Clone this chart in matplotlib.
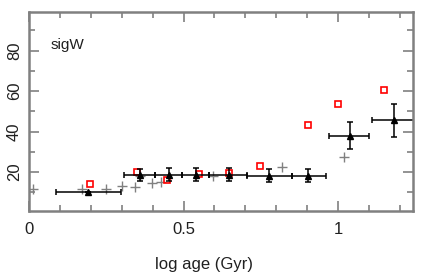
import numpy as np
import matplotlib.pyplot as plt
from matplotlib.ticker import MultipleLocator

# grey crosses (individual clusters)
plus_x = [0.014, 0.17, 0.25, 0.30, 0.343, 0.36, 0.397, 0.428, 0.595, 0.818, 1.019]
plus_y = [11.5, 11.8, 11.6, 13.0, 12.6, 18.0, 14.8, 15.2, 18.2, 22.5, 27.7]

# red open squares
sq_x = [0.197, 0.348, 0.448, 0.55, 0.648, 0.748, 0.902, 0.999, 1.149]
sq_y = [14.3, 20.0, 16.2, 19.2, 19.5, 23.0, 43.3, 53.7, 60.7]

# binned means (triangles) with errors
tri_x = [0.192, 0.359, 0.453, 0.539, 0.648, 0.778, 0.904, 1.039, 1.181]
tri_y = [10.0, 18.7, 18.8, 18.8, 18.8, 18.3, 18.3, 38.0, 45.5]
tri_xlo = [0.086, 0.308, 0.408, 0.496, 0.583, 0.705, 0.85, 0.971, 1.109]
tri_xhi = [0.298, 0.408, 0.496, 0.583, 0.705, 0.85, 0.96, 1.10, 1.25]
tri_yerr = [0.0, 3.0, 3.0, 3.0, 3.0, 3.0, 3.0, 6.5, 8.2]

plt.rcParams['font.family'] = ['Liberation Sans', 'DejaVu Sans']

fig = plt.figure(figsize=(4.36, 2.79), dpi=100)
ax = fig.add_axes([0.0665, 0.245, 0.881, 0.712])

grey = '#808080'
txt = '#202020'

ax.plot(plus_x, plus_y, '+', color=grey, markersize=7, mew=1.0)
ax.plot(sq_x, sq_y, 's', mfc='none', mec='red', markersize=5, mew=1.2)

xerr = [np.array(tri_x) - np.array(tri_xlo), np.array(tri_xhi) - np.array(tri_x)]
ax.errorbar(tri_x, tri_y, xerr=xerr, yerr=tri_yerr, fmt='^', color='black',
            markersize=4, elinewidth=1.1, capsize=2.5, capthick=1.1)

ax.text(0.07, 82.5, 'sigW', fontsize=11, va='center', ha='left', color=txt)

ax.set_xlim(0, 1.243)
ax.set_ylim(1, 99)
ax.xaxis.set_minor_locator(MultipleLocator(0.1))
ax.yaxis.set_minor_locator(MultipleLocator(10))
ax.set_xticks([0, 0.5, 1])
ax.set_xticklabels(['0', '0.5', '1'])
ax.set_yticks([20, 40, 60, 80])
ax.set_yticklabels(['20', '40', '60', '80'], rotation=90, va='center')

ax.tick_params(which='both', direction='in', top=True, right=True, color=grey,
               width=1.2, labelsize=12, pad=8, labelcolor=txt)
ax.tick_params(which='major', length=7)
ax.tick_params(which='minor', length=4)
ax.tick_params(axis='y', pad=5)
for s in ax.spines.values():
    s.set_color(grey)
    s.set_linewidth(1.8)

ax.set_xlabel('log age (Gyr)', fontsize=12, color=txt)
ax.xaxis.set_label_coords(0.456, -0.235)

fig.savefig('out.png', dpi=100)
